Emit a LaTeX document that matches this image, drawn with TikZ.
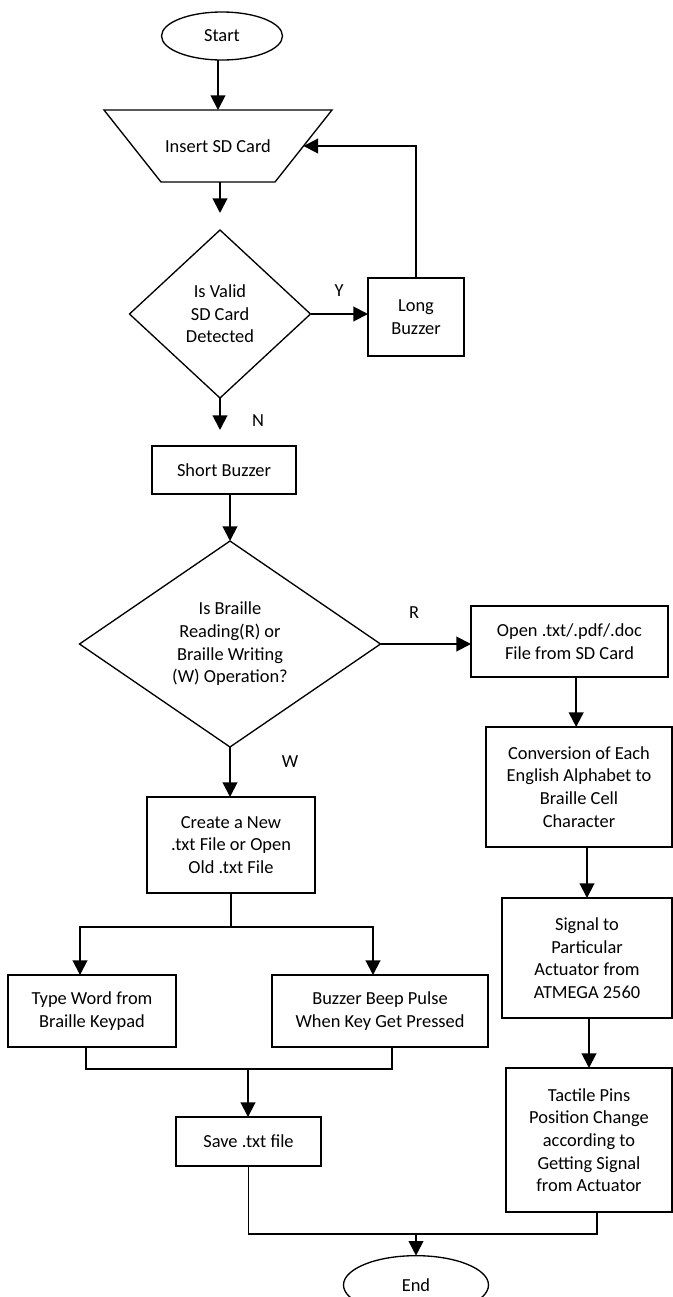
\documentclass[tikz,border=0pt]{standalone}
\usepackage{fontspec}
\setmainfont{Carlito}
\usetikzlibrary{arrows.meta,shapes.geometric}

\begin{document}
\begin{tikzpicture}[x=0.75pt,y=-0.75pt,font=\fontsize{13.8}{17}\selectfont,
  box/.style={draw,line width=1pt,align=center,inner sep=0pt,outer sep=0pt},
  arr/.style={-{Triangle[length=11pt,width=11pt]},line width=1.5pt},
  line/.style={line width=1pt}]
  \useasboundingbox (0,0) rectangle (673,1297);
  \node[box,ellipse,minimum width=90.75pt,minimum height=36pt] (start) at (222,36) {Start};
  \node[inner sep=0pt,outer sep=0pt,minimum width=171pt,minimum height=54pt] (insert) at (218,146) {Insert SD Card};
  \draw[line] (insert.north west) -- (insert.north east) -- ([xshift=-42.75pt]insert.south east)
    -- ([xshift=42.75pt]insert.south west) -- cycle;
  \coordinate (insertr) at ([xshift=-21.4pt]insert.east);
  \node[box,diamond,aspect=1.08,minimum width=135.75pt,minimum height=126pt] (valid) at (220,314)
        {Is Valid\\SD Card\\Detected};
  \node[box,minimum width=72pt,minimum height=58.5pt] (lbuzz) at (416,317) {Long\\Buzzer};
  \node[box,minimum width=108pt,minimum height=36pt] (short) at (224,470) {Short Buzzer};
  \node[box,diamond,aspect=1.46,minimum width=225.75pt,minimum height=154.5pt] (mode) at (230,644)
        {Is Braille\\Reading(R) or\\Braille Writing\\(W) Operation?};
  \node[box,minimum width=147.75pt,minimum height=53.25pt] (open) at (569.5,641.5)
        {Open .txt/.pdf/.doc\\File from SD Card};
  \node[box,minimum width=139.5pt,minimum height=90pt] (conv) at (579,787)
        {Conversion of Each\\English Alphabet to\\Braille Cell\\Character};
  \node[box,minimum width=127.5pt,minimum height=90pt] (signal) at (587,958)
        {Signal to\\Particular\\Actuator from\\ATMEGA 2560};
  \node[box,minimum width=124.5pt,minimum height=108pt] (tactile) at (589,1140)
        {Tactile Pins\\Position Change\\according to\\Getting Signal\\from Actuator};
  \node[box,minimum width=126pt,minimum height=72pt] (create) at (231,845)
        {Create a New\\.txt File or Open\\Old .txt File};
  \node[box,minimum width=126pt,minimum height=54pt] (type) at (92,1011)
        {Type Word from\\Braille Keypad};
  \node[box,minimum width=162pt,minimum height=54pt] (beep) at (380,1011)
        {Buzzer Beep Pulse\\When Key Get Pressed};
  \node[box,minimum width=108.75pt,minimum height=36.75pt] (save) at (248.5,1141.5) {Save .txt file};
  \node[box,ellipse,minimum width=108.75pt,minimum height=44pt] (end) at (416,1285) {End};
  \node (ylab) at (339,291) {Y};
  \node (nlab) at (258,421) {N};
  \node (rlab) at (414,613) {R};
  \node (wlab) at (290,762) {W};
  \coordinate (split) at (231,927);
  \coordinate (join) at (248,1069);
  \coordinate (meet) at (416,1234);

  \draw[arr] (start.south -| insert.north) -- (insert.north);
  \draw[arr,shorten >=12.75pt] (insert.south -| valid.north) -- (valid.north);
  \draw[arr] (valid.east) -- (valid.east -| lbuzz.west);
  \draw[arr] (lbuzz.north) |- (insertr);
  \draw[arr,shorten >=12pt] (valid.south) -- (valid.south |- short.north);
  \draw[arr] (short.south -| mode.north) -- (mode.north);
  \draw[arr] (mode.east) -- (mode.east -| open.west);
  \draw[arr] (mode.south) -- (mode.south |- create.north);
  \draw[arr] ([xshift=5pt]open.south) -- ([xshift=5pt]open.south |- conv.north);
  \draw[arr] (conv.south -| signal.north) -- (signal.north);
  \draw[arr] (signal.south -| tactile.north) -- (tactile.north);
  \draw[line] (create) -- (split);
  \draw[arr] (split) -| ([xshift=-9pt]type.north);
  \draw[arr] (split) -| ([xshift=-5.25pt]beep.north);
  \draw[line] ([xshift=-4.5pt]type.south) |- (join) -| ([xshift=9pt]beep.south);
  \draw[arr] (join) -- (join |- save.north);
  \draw[line] (save) |- (meet) -| ([xshift=6pt]tactile.south);
  \draw[arr] (meet) -- (end);
\end{tikzpicture}
\end{document}
